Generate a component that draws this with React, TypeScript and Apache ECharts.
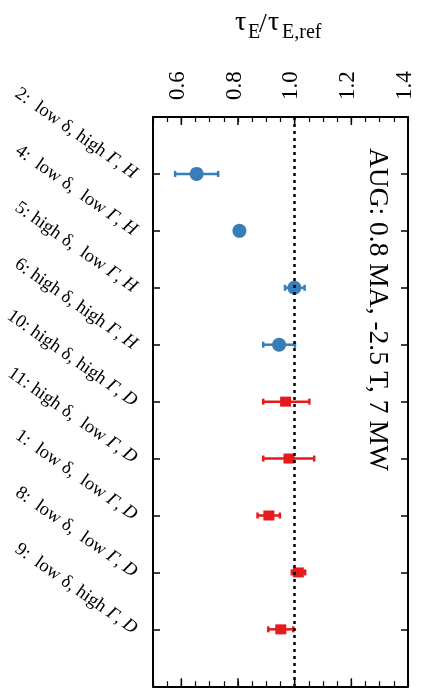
import React, { useEffect, useRef } from "react";
import * as echarts from "echarts";

const caseLabels = [
  "2:  low δ, high Γ, H",
  "4:  low δ,  low Γ, H",
  "5: high δ,  low Γ, H",
  "6: high δ, high Γ, H",
  "10: high δ, high Γ, D",
  "11: high δ,  low Γ, D",
  "1:  low δ,  low Γ, D",
  "8:  low δ,  low Γ, D",
  "9:  low δ, high Γ, D",
];

// H cases (blue circles) occupy rows 1-4, D cases (red squares) rows 5-9
const hRows = [1, 2, 3, 4];
const hValues = [0.654, 0.805, 0.999, 0.945];
const hLow = [0.578, 0.805, 0.966, 0.889];
const hHigh = [0.73, 0.805, 1.035, 1.001];

const dRows = [5, 6, 7, 8, 9];
const dValues = [0.968, 0.98, 0.909, 1.013, 0.951];
const dLow = [0.889, 0.889, 0.869, 0.99, 0.907];
const dHigh = [1.052, 1.069, 0.948, 1.037, 0.995];

const xMajorTicks = [0.6, 0.8, 1.0, 1.2, 1.4];
const referenceValue = 1.0;

const annotation = "AUG: 0.8 MA, -2.5 T, 7 MW";

const SERIF = "'Liberation Serif', 'DejaVu Serif', serif";
const BLUE = "#377eb8";
const RED = "#e41a1c";

function richLabel(s: string): string {
  const m = s.match(/^(.*)Γ, ([HD])$/);
  if (!m) return s;
  return m[1] + "{i|Γ}, {i|" + m[2] + "}";
}

function errorBarSeries(rows: number[], lo: number[], hi: number[], color: string) {
  return {
    type: "custom",
    xAxisIndex: 0,
    yAxisIndex: 0,
    encode: { x: [0, 1], y: 2 },
    data: rows.map((r, i) => [lo[i], hi[i], r]),
    z: 2,
    renderItem: (_params: any, api: any) => {
      const y = api.value(2);
      const p1 = api.coord([api.value(0), y]);
      const p2 = api.coord([api.value(1), y]);
      const h = 3;
      const style = { stroke: color, lineWidth: 2.5 };
      return {
        type: "group",
        children: [
          { type: "line", shape: { x1: p1[0], y1: p1[1], x2: p2[0], y2: p2[1] }, style },
          { type: "line", shape: { x1: p1[0], y1: p1[1] - h, x2: p1[0], y2: p1[1] + h }, style },
          { type: "line", shape: { x1: p2[0], y1: p2[1] - h, x2: p2[0], y2: p2[1] + h }, style },
        ],
      };
    },
  };
}

// major ticks (longer) on the top and bottom frame edges
function majorTickSeries(values: number[], len: number, width: number) {
  return {
    type: "custom",
    xAxisIndex: 0,
    yAxisIndex: 0,
    silent: true,
    clip: false,
    z: 10,
    encode: { x: 0, y: 1 },
    data: values.map((v) => [v, 5]),
    renderItem: (params: any, api: any) => {
      const cs = params.coordSys;
      const px = api.coord([api.value(0), 5])[0];
      const style = { stroke: "#000", lineWidth: width };
      return {
        type: "group",
        children: [
          { type: "line", shape: { x1: px, y1: cs.y, x2: px, y2: cs.y + len }, style },
          { type: "line", shape: { x1: px, y1: cs.y + cs.height, x2: px, y2: cs.y + cs.height - len }, style },
        ],
      };
    },
  };
}

export default function App() {
  const ref = useRef<HTMLDivElement>(null);
  useEffect(() => {
    if (!ref.current) return;
    const chart = echarts.init(ref.current, null, { renderer: "svg" });
    const isMajor = (v: number) =>
      xMajorTicks.some((t) => Math.abs(t - v) < 1e-6);
    const line = { show: true, onZero: false, lineStyle: { color: "#000", width: 2 } };
    const noLine = { show: false, onZero: false };
    const yBase = () => ({
      type: "value",
      min: 0,
      max: 10,
      interval: 1,
      inverse: true,
      splitLine: { show: false },
    });
    const yTick = { show: true, inside: true, length: 7, lineStyle: { color: "#000", width: 1.5 } };
    const xMinorTick = { show: true, inside: true, length: 5, lineStyle: { color: "#000", width: 1.2 } };
    chart.setOption({
      animation: false,
      grid: { left: 153, right: 20, top: 117, height: 573, show: false },
      xAxis: [
        {
          type: "value",
          min: 0.5,
          max: 1.4,
          interval: 0.05,
          splitLine: { show: false },
          position: "top",
          axisLine: line,
          axisTick: xMinorTick,
          axisLabel: {
            show: true,
            rotate: -90,
            margin: 17,
            fontFamily: SERIF,
            fontSize: 23,
            color: "#000",
            verticalAlign: "bottom",
            lineHeight: 10,
            formatter: (v: number) => (isMajor(v) ? v.toFixed(1) : ""),
          },
        },
        {
          type: "value",
          min: 0.5,
          max: 1.4,
          interval: 0.05,
          splitLine: { show: false },
          position: "bottom",
          axisLine: line,
          axisLabel: { show: false },
          axisTick: xMinorTick,
        },
      ],
      yAxis: [
        {
          ...yBase(),
          position: "left",
          axisLine: line,
          axisTick: { show: false },
          axisLabel: {
            show: true,
            rotate: -35,
            margin: 17,
            fontFamily: SERIF,
            fontSize: 18.5,
            color: "#000",
            formatter: (v: number) => {
              const i = Math.round(v) - 1;
              return i >= 0 && i < caseLabels.length ? richLabel(caseLabels[i]) : "";
            },
            rich: {
              i: { fontFamily: SERIF, fontSize: 18.5, fontStyle: "italic", color: "#000" },
            },
          },
        },
        {
          ...yBase(),
          position: "right",
          axisLine: line,
          axisLabel: { show: false },
          axisTick: yTick,
        },
        {
          ...yBase(),
          position: "left",
          axisLine: noLine,
          axisLabel: { show: false },
          axisTick: yTick,
        },
      ],
      series: [
        {
          type: "line",
          data: [],
          markLine: {
            silent: true,
            symbol: "none",
            label: { show: false },
            lineStyle: { color: "#000", type: [3, 4], width: 2.5 },
            data: [{ xAxis: referenceValue }],
          },
        },
        majorTickSeries(xMajorTicks, 8, 1.5),
        errorBarSeries(hRows, hLow, hHigh, BLUE),
        errorBarSeries(dRows, dLow, dHigh, RED),
        {
          type: "scatter",
          symbol: "circle",
          symbolSize: 14,
          itemStyle: { color: BLUE, opacity: 1 },
          data: hRows.map((r, i) => [hValues[i], r]),
          z: 3,
        },
        {
          type: "scatter",
          symbol: "rect",
          symbolSize: [11, 10],
          itemStyle: { color: RED, opacity: 1 },
          data: dRows.map((r, i) => [dValues[i], r]),
          z: 3,
        },
      ],
      graphic: [
        { type: "text", x: 235, y: 20, style: { text: "τ", fontFamily: SERIF, fontSize: 28, fill: "#000", verticalAlign: "middle", textVerticalAlign: "middle" } },
        { type: "text", x: 248, y: 31, style: { text: "E", fontFamily: SERIF, fontSize: 20, fill: "#000", verticalAlign: "middle", textVerticalAlign: "middle" } },
        { type: "text", x: 259, y: 22, style: { text: "/", fontFamily: SERIF, fontSize: 28, fill: "#000", verticalAlign: "middle", textVerticalAlign: "middle" } },
        { type: "text", x: 268, y: 20, style: { text: "τ", fontFamily: SERIF, fontSize: 28, fill: "#000", verticalAlign: "middle", textVerticalAlign: "middle" } },
        { type: "text", x: 282, y: 31, style: { text: "E,ref", fontFamily: SERIF, fontSize: 20, fill: "#000", verticalAlign: "middle", textVerticalAlign: "middle" } },
        {
          type: "text",
          x: 379,
          y: 148,
          rotation: -Math.PI / 2,
          style: {
            text: annotation,
            fontFamily: SERIF,
            fontSize: 27.5,
            fill: "#000",
            align: "left",
            textAlign: "left",
            verticalAlign: "middle",
            textVerticalAlign: "middle",
          },
        },
      ],
    });
    return () => chart.dispose();
  }, []);
  return (
    <div
      ref={ref}
      style={{ position: "fixed", left: 0, top: 0, width: 428, height: 688 }}
    />
  );
}
